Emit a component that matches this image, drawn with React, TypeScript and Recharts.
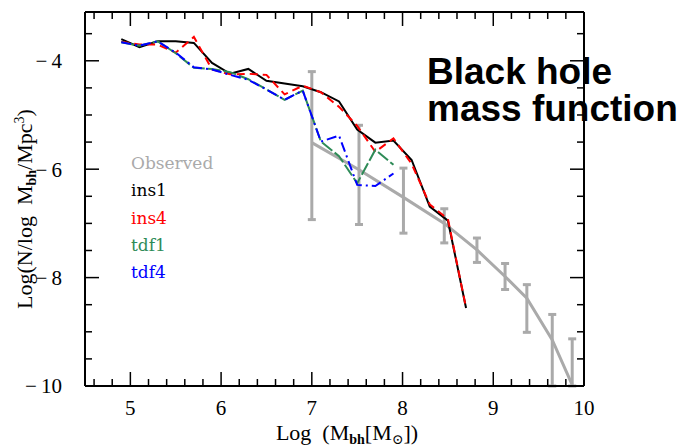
import { LineChart, Line, XAxis, YAxis, ErrorBar, Legend } from 'recharts'

// log black hole mass bins of the simulations
const MASS = [4.9, 5.1, 5.3, 5.5, 5.7, 5.9, 6.1, 6.3, 6.5, 6.7, 6.9, 7.1, 7.3, 7.5, 7.7, 7.9, 8.1, 8.3, 8.5, 8.7]
const INS1 = [-3.6, -3.75, -3.64, -3.64, -3.67, -4.04, -4.24, -4.15, -4.37, -4.42, -4.47, -4.58, -4.75, -5.27, -5.51, -5.47, -5.83, -6.69, -6.95, -8.56]
const INS4 = [-3.65, -3.7, -3.7, -3.85, -3.56, -4.16, -4.25, -4.24, -4.26, -4.62, -4.46, -4.58, -4.85, -5.2, -5.68, -5.43, -5.9, -6.65, -6.92, -8.56]

const TDF_MASS = [4.9, 5.1, 5.3, 5.5, 5.7, 5.9, 6.1, 6.3, 6.5, 6.7, 6.9, 7.1, 7.3, 7.5, 7.7, 7.9]
const TDF1 = [-3.66, -3.72, -3.64, -3.86, -4.13, -4.15, -4.21, -4.34, -4.53, -4.72, -4.55, -5.49, -5.76, -6.26, -5.64, -5.92]
const TDF4 = [-3.66, -3.72, -3.64, -3.85, -4.12, -4.16, -4.26, -4.35, -4.53, -4.72, -4.55, -5.49, -5.38, -6.29, -6.31, -6.08]

// observed mass function with asymmetric errors [down, up]
const OBS_MASS = [7.0, 7.52, 8.01, 8.46, 8.82, 9.13, 9.37, 9.65, 9.87]
const OBS = [-5.51, -6.01, -6.52, -7.0, -7.49, -7.98, -8.38, -9.15, -9.98]
const OBS_ERR = [
  [1.42, 1.31],
  [1.01, 0.82],
  [0.66, 0.54],
  [0.36, 0.27],
  [0.23, 0.22],
  [0.24, 0.24],
  [0.63, 0.25],
  [0.85, 0.47],
  [0.02, 0.85],
]

const X_TICKS = [4.6, 4.8, 5, 5.2, 5.4, 5.6, 5.8, 6, 6.2, 6.4, 6.6, 6.8, 7, 7.2, 7.4, 7.6, 7.8, 8, 8.2, 8.4, 8.6, 8.8, 9, 9.2, 9.4, 9.6, 9.8, 10]
const Y_TICKS = [-10, -9.5, -9, -8.5, -8, -7.5, -7, -6.5, -6, -5.5, -5, -4.5, -4, -3.5]

const LEGEND = [
  { name: 'Observed', color: '#aaaaaa' },
  { name: 'ins1', color: '#000000' },
  { name: 'ins4', color: '#ff0000' },
  { name: 'tdf1', color: '#2e8b57' },
  { name: 'tdf4', color: '#0000ff' },
]

const obsData = OBS_MASS.map((x, i) => ({ x, y: OBS[i], err: OBS_ERR[i] }))
const ins1Data = MASS.map((x, i) => ({ x, y: INS1[i] }))
const ins4Data = MASS.map((x, i) => ({ x, y: INS4[i] }))
const tdf1Data = TDF_MASS.map((x, i) => ({ x, y: TDF1[i] }))
const tdf4Data = TDF_MASS.map((x, i) => ({ x, y: TDF4[i] }))

const serif = '"Liberation Serif", "DejaVu Serif", serif'
const isMajorX = (v: number) => Math.abs(v - Math.round(v)) < 1e-6
const isMajorY = (v: number) => Math.abs(v / 2 - Math.round(v / 2)) < 1e-6

const BottomTick = ({ x, y, payload }: any) => {
  const major = isMajorX(payload.value)
  return (
    <g>
      <line x1={x} x2={x} y1={y} y2={y - (major ? 14 : 7)} stroke="#000" strokeWidth={1.5} />
      {major && (
        <text x={x} y={y + 29} textAnchor="middle" fontSize={21} fontFamily={serif} fill="#000">
          {payload.value}
        </text>
      )}
    </g>
  )
}

const TopTick = ({ x, y, payload }: any) => (
  <line x1={x} x2={x} y1={y} y2={y + (isMajorX(payload.value) ? 14 : 7)} stroke="#000" strokeWidth={1.5} />
)

const LeftTick = ({ x, y, payload }: any) => {
  const major = isMajorY(payload.value)
  return (
    <g>
      <line x1={x} x2={x + (major ? 14 : 7)} y1={y} y2={y} stroke="#000" strokeWidth={1.5} />
      {major && (
        <text x={x - 23} y={y} dy="0.35em" textAnchor="end" fontSize={21} fontFamily={serif} fill="#000">
          {'\u2212\u2009' + Math.abs(payload.value)}
        </text>
      )}
    </g>
  )
}

const RightTick = ({ x, y, payload }: any) => (
  <line x1={x} x2={x - (isMajorY(payload.value) ? 14 : 7)} y1={y} y2={y} stroke="#000" strokeWidth={1.5} />
)

const XTitle = () => (
  <text x={339} y={432} textAnchor="middle" fontSize={22} fontFamily={serif} fill="#000">
    {'Log\u00a0\u00a0(M'}
    <tspan dy={4} fontSize={14} fontWeight="bold">bh</tspan>
    <tspan dy={-4}>[M</tspan>
    <tspan dy={4} fontSize={14}>{'\u2299'}</tspan>
    <tspan dy={-4}>])</tspan>
  </text>
)

const YTitle = () => (
  <text
    x={0}
    y={0}
    transform="translate(24, 201) rotate(-90)"
    textAnchor="middle"
    fontSize={22}
    fontFamily={serif}
    fill="#000"
  >
    {'Log(N/log\u00a0\u00a0M'}
    <tspan dy={4} fontSize={14} fontWeight="bold">bh</tspan>
    <tspan dy={-4}>/Mpc</tspan>
    <tspan dy={-8} fontSize={14}>3</tspan>
    <tspan dy={8}>)</tspan>
  </text>
)

const LegendContent = () => (
  <div style={{ fontFamily: '"DejaVu Serif", serif', fontSize: 17, lineHeight: '27.3px' }}>
    {LEGEND.map((l) => (
      <div key={l.name} style={{ color: l.color }}>
        {l.name}
      </div>
    ))}
  </div>
)

export default function App() {
  return (
    <div style={{ position: 'relative', width: 681, height: 446 }}>
      <style>{'body { margin: 0; }'}</style>
      <div style={{ position: 'absolute', left: 8, top: 8 }}>
        <LineChart width={665} height={438} margin={{ top: 3, right: 88, bottom: 0, left: 0 }}>
          <XAxis
            xAxisId="bottom"
            dataKey="x"
            type="number"
            domain={[4.5, 10]}
            allowDataOverflow
            ticks={X_TICKS}
            interval={0}
            height={60}
            tickSize={0}
            tickMargin={0}
            tickLine={false}
            tick={BottomTick}
            axisLine={{ stroke: '#000', strokeWidth: 2 }}
            label={<XTitle />}
          />
          <XAxis
            xAxisId="top"
            orientation="top"
            dataKey="x"
            type="number"
            domain={[4.5, 10]}
            allowDataOverflow
            ticks={X_TICKS}
            interval={0}
            height={1}
            tickSize={0}
            tickMargin={0}
            tickLine={false}
            tick={TopTick}
            axisLine={{ stroke: '#000', strokeWidth: 2 }}
          />
          <YAxis
            yAxisId="left"
            type="number"
            domain={[-10, -3.1]}
            allowDataOverflow
            ticks={Y_TICKS}
            interval={0}
            width={77}
            tickSize={0}
            tickMargin={0}
            tickLine={false}
            tick={LeftTick}
            axisLine={{ stroke: '#000', strokeWidth: 2 }}
            label={<YTitle />}
          />
          <YAxis
            yAxisId="right"
            orientation="right"
            type="number"
            domain={[-10, -3.1]}
            allowDataOverflow
            ticks={Y_TICKS}
            interval={0}
            width={1}
            tickSize={0}
            tickMargin={0}
            tickLine={false}
            tick={RightTick}
            axisLine={{ stroke: '#000', strokeWidth: 2 }}
          />
          <Legend
            layout="vertical"
            align="center"
            verticalAlign="middle"
            content={<LegendContent />}
            wrapperStyle={{ position: 'absolute', left: 123, top: 142, width: 120 }}
          />
          <Line
            xAxisId="bottom"
            yAxisId="left"
            data={obsData}
            dataKey="y"
            name="Observed"
            stroke="#aaaaaa"
            strokeWidth={3}
            dot={false}
            isAnimationActive={false}
          >
            <ErrorBar dataKey="err" direction="y" width={4} stroke="#aaaaaa" strokeWidth={3} />
          </Line>
          <Line
            xAxisId="bottom"
            yAxisId="left"
            data={ins1Data}
            dataKey="y"
            name="ins1"
            stroke="#000000"
            strokeWidth={2}
            dot={false}
            isAnimationActive={false}
          />
          <Line
            xAxisId="bottom"
            yAxisId="left"
            data={ins4Data}
            dataKey="y"
            name="ins4"
            stroke="#ff0000"
            strokeWidth={2}
            strokeDasharray="8 5"
            dot={false}
            isAnimationActive={false}
          />
          <Line
            xAxisId="bottom"
            yAxisId="left"
            data={tdf1Data}
            dataKey="y"
            name="tdf1"
            stroke="#2e8b57"
            strokeWidth={2}
            strokeDasharray="13 3"
            dot={false}
            isAnimationActive={false}
          />
          <Line
            xAxisId="bottom"
            yAxisId="left"
            data={tdf4Data}
            dataKey="y"
            name="tdf4"
            stroke="#0000ff"
            strokeWidth={2}
            strokeDasharray="10 4 2 4"
            dot={false}
            isAnimationActive={false}
          />
        </LineChart>
      </div>
      <div
        style={{
          position: 'absolute',
          left: 427,
          top: 53,
          fontFamily: '"Liberation Sans", Arial, sans-serif',
          fontWeight: 'bold',
          fontSize: 37,
          lineHeight: '37px',
          color: '#000',
          whiteSpace: 'nowrap',
        }}
      >
        Black hole
        <br />
        mass function
      </div>
    </div>
  )
}
